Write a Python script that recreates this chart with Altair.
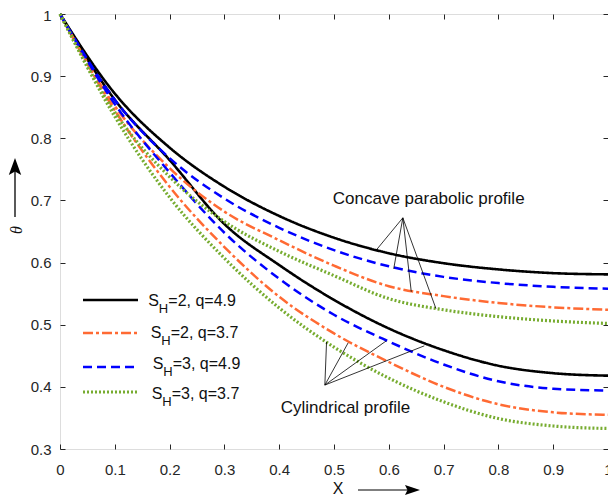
import altair as alt
import pandas as pd

# ---------------- data ----------------
x_vals = [0.0, 0.1, 0.2, 0.3, 0.4, 0.5, 0.6, 0.7, 0.8, 0.9, 1.0]

# Concave parabolic profile
conc_sh2_q49 = [1.0, 0.872, 0.785, 0.722, 0.675, 0.640, 0.615, 0.599, 0.589, 0.583, 0.581]
conc_sh2_q37 = [1.0, 0.852, 0.752, 0.682, 0.636, 0.595, 0.562, 0.546, 0.535, 0.528, 0.524]
conc_sh3_q49 = [1.0, 0.862, 0.768, 0.703, 0.656, 0.620, 0.594, 0.577, 0.567, 0.561, 0.558]
conc_sh3_q37 = [1.0, 0.842, 0.738, 0.666, 0.618, 0.579, 0.542, 0.524, 0.513, 0.506, 0.502]

# Cylindrical profile
cyl_sh2_q49 = [1.0, 0.862, 0.765, 0.662, 0.596, 0.540, 0.494, 0.459, 0.434, 0.422, 0.418]
cyl_sh2_q37 = [1.0, 0.845, 0.722, 0.625, 0.545, 0.486, 0.440, 0.400, 0.372, 0.359, 0.355]
cyl_sh3_q49 = [1.0, 0.855, 0.745, 0.648, 0.574, 0.516, 0.473, 0.436, 0.409, 0.397, 0.394]
cyl_sh3_q37 = [1.0, 0.835, 0.705, 0.607, 0.527, 0.464, 0.414, 0.376, 0.349, 0.337, 0.333]

params = ["SH=2, q=4.9", "SH=2, q=3.7", "SH=3, q=4.9", "SH=3, q=3.7"]
legend_sh = ["2", "2", "3", "3"]
legend_q = ["4.9", "3.7", "4.9", "3.7"]

x_ticks = [0, 0.1, 0.2, 0.3, 0.4, 0.5, 0.6, 0.7, 0.8, 0.9, 1]
y_ticks = [0.3, 0.4, 0.5, 0.6, 0.7, 0.8, 0.9, 1]

# annotation pointer lines (data coordinates)
conc_hub = (0.6256, 0.672)
conc_tips_x = [0.577, 0.609, 0.641, 0.686]
conc_tips_y = [0.620, 0.590, 0.553, 0.526]
cyl_hub = (0.4833, 0.4029)
cyl_tips_x = [0.4864, 0.5258, 0.5953, 0.6648]
cyl_tips_y = [0.4724, 0.4708, 0.4740, 0.4660]

ann_text = ["Concave parabolic profile", "Cylindrical profile"]
ann_x = [0.6728, 0.5209]
ann_y = [0.7026, 0.3655]

# ---------------- styles / layout ----------------
colors = ["#000000", "#ff6a33", "#0000ff", "#77ac30"]
dashes = [[1, 0], [10, 3, 3, 3], [9, 5], [2, 2]]
widths = [2.6, 2.5, 2.5, 3.2]
FONT = "Liberation Sans"
AX = "#262626"
TXT = "#111111"

PAD_L, PAD_T, PAD_B = 52, 6, 47
W, H = 548, 435
OX, OY = 8 + PAD_L, 8 + PAD_T   # page position of plot origin


def px(v):
    return v - OX


def py(v):
    return v - OY


series = {
    "Concave": [conc_sh2_q49, conc_sh2_q37, conc_sh3_q49, conc_sh3_q37],
    "Cylindrical": [cyl_sh2_q49, cyl_sh2_q37, cyl_sh3_q49, cyl_sh3_q37],
}
rows = []
for prof, lists in series.items():
    for p, vals in zip(params, lists):
        for xv, yv in zip(x_vals, vals):
            rows.append({"profile": prof, "param": p, "x": xv, "theta": yv})
df = pd.DataFrame(rows)

xscale = alt.Scale(domain=[0, 1], nice=False, zero=False)
yscale = alt.Scale(domain=[0.3, 1], nice=False, zero=False)

x_axis = alt.Axis(values=x_ticks, format=".1~f", title=None, grid=False, domain=False,
                  offset=-5, tickSize=5, tickColor=AX, labelColor=AX, labelFont=FONT,
                  labelFontSize=15, labelPadding=13, labelFlush=False, labelOverlap=False)
y_axis = alt.Axis(values=y_ticks, format=".1~f", title=None, grid=False, domain=False,
                  offset=-5, tickSize=5, tickColor=AX, labelColor=AX, labelFont=FONT,
                  labelFontSize=15, labelPadding=9, labelFlush=False, labelOverlap=False,
                  labelOffset={"condition": {"test": "datum.value >= 0.99", "value": 1.5},
                               "value": 0})

line_layers = []
for i, p in enumerate(params):
    line_layers.append(
        alt.Chart(df[df["param"] == p]).mark_line(
            color=colors[i], strokeDash=dashes[i], strokeWidth=widths[i],
            interpolate="monotone"
        ).encode(
            x=alt.X("x:Q", scale=xscale, axis=x_axis),
            y=alt.Y("theta:Q", scale=yscale, axis=y_axis),
            detail="profile:N",
        )
    )

ptr_rows = []
for tx, ty in zip(conc_tips_x, conc_tips_y):
    ptr_rows.append({"x": conc_hub[0], "y": conc_hub[1], "x2": tx, "y2": ty})
for tx, ty in zip(cyl_tips_x, cyl_tips_y):
    ptr_rows.append({"x": cyl_hub[0], "y": cyl_hub[1], "x2": tx, "y2": ty})
ptr = alt.Chart(pd.DataFrame(ptr_rows)).mark_rule(color="black", strokeWidth=0.8).encode(
    x=alt.X("x:Q", scale=xscale, axis=x_axis), y=alt.Y("y:Q", scale=yscale, axis=y_axis),
    x2="x2:Q", y2="y2:Q")

ann = alt.Chart(pd.DataFrame({"t": ann_text, "x": ann_x, "y": ann_y})).mark_text(
    font=FONT, fontSize=17, color=TXT, align="center", baseline="middle"
).encode(x=alt.X("x:Q", scale=xscale, axis=x_axis),
         y=alt.Y("y:Q", scale=yscale, axis=y_axis), text="t:N")

main = alt.layer(*line_layers, ptr, ann)

# box axes (top / right ticks only)
box = alt.Chart(pd.DataFrame({"x": [0.5], "y": [0.5]})).mark_point(opacity=0).encode(
    x=alt.X("x:Q", scale=xscale, axis=alt.Axis(orient="top", values=x_ticks, labels=False,
            title=None, grid=False, domain=False, offset=-5, tickSize=5, tickColor=AX)),
    y=alt.Y("y:Q", scale=yscale, axis=alt.Axis(orient="right", values=y_ticks, labels=False,
            title=None, grid=False, domain=False, offset=-5, tickSize=5, tickColor=AX)),
)

one = pd.DataFrame({"a": [0]})
extras = []
# legend (page coordinates converted to plot coordinates)
leg_line_y = [300, 333, 367, 392]
leg_text_y = [301, 332.7, 364.3, 394.3]
leg_text_x = [148.3, 150.7, 152.7, 151.7]
for i in range(4):
    extras.append(alt.Chart(one).mark_rule(color=colors[i], strokeDash=dashes[i],
                                           strokeWidth=widths[i]).encode(
        x=alt.value(px(83)), x2=alt.value(px(138)), y=alt.value(py(leg_line_y[i]))))
    extras.append(alt.Chart(one).mark_text(text="S", font=FONT, fontSize=16, align="left",
                                           baseline="middle", color=TXT).encode(
        x=alt.value(px(leg_text_x[i])), y=alt.value(py(leg_text_y[i]))))
    extras.append(alt.Chart(one).mark_text(text="H", font=FONT, fontSize=13, align="left",
                                           baseline="middle", color=TXT).encode(
        x=alt.value(px(leg_text_x[i] + 10.5)), y=alt.value(py(leg_text_y[i] + 8))))
    extras.append(alt.Chart(one).mark_text(text="=" + legend_sh[i] + ", q=" + legend_q[i],
                                           font=FONT, fontSize=16, align="left",
                                           baseline="middle", color=TXT).encode(
        x=alt.value(px(leg_text_x[i] + 20)), y=alt.value(py(leg_text_y[i]))))

# axis titles with arrows
extras.append(alt.Chart(one).mark_text(text="X", font=FONT, fontSize=16, align="center",
                                       baseline="middle", color=TXT).encode(
    x=alt.value(px(338)), y=alt.value(py(489))))
extras.append(alt.Chart(one).mark_rule(color="black", strokeWidth=1.2).encode(
    x=alt.value(px(358)), x2=alt.value(px(411)), y=alt.value(py(490))))
extras.append(alt.Chart(one).mark_point(
    shape="M1,0L-0.5,0.5L-0.25,0L-0.5,-0.5Z", filled=True, size=400, color="black",
    opacity=1, strokeWidth=0).encode(x=alt.value(px(410)), y=alt.value(py(490))))

extras.append(alt.Chart(one).mark_text(text="θ", font="Liberation Serif", fontStyle="italic",
                                       fontSize=16, angle=270, align="center",
                                       baseline="middle", color=TXT).encode(
    x=alt.value(px(17)), y=alt.value(py(230))))
extras.append(alt.Chart(one).mark_rule(color="black", strokeWidth=1.3).encode(
    x=alt.value(px(15)), y=alt.value(py(170)), y2=alt.value(py(217))))
extras.append(alt.Chart(one).mark_point(
    shape="M0,-1L0.55,0.5L0,0.2L-0.55,0.5Z", filled=True, size=510, color="black",
    opacity=1, strokeWidth=0).encode(x=alt.value(px(15)), y=alt.value(py(169.3))))

chart = alt.layer(main, box, *extras).resolve_scale(
    x="independent", y="independent"
).properties(
    width=W, height=H,
    padding={"left": PAD_L, "top": PAD_T, "right": 0, "bottom": PAD_B},
    autosize=alt.AutoSizeParams(type="none"),
).configure_view(stroke=AX, strokeWidth=1).configure(background="white")

chart.save("out.html", embed_options={"renderer": "svg", "actions": False})
